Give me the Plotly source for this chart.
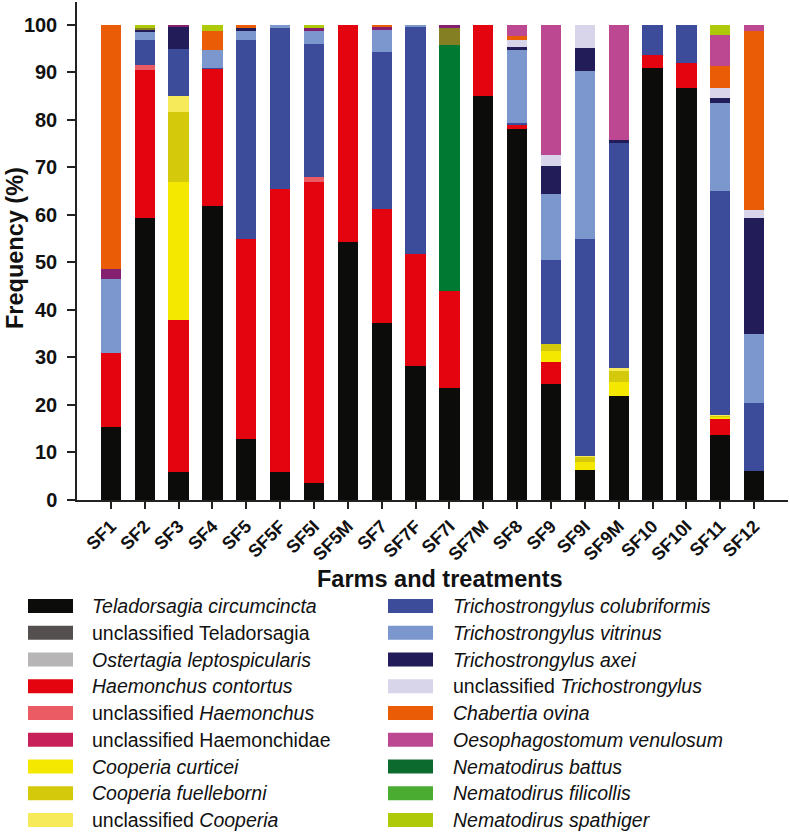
import plotly.graph_objects as go

categories = ["SF1", "SF2", "SF3", "SF4", "SF5", "SF5F", "SF5I", "SF5M", "SF7", "SF7F",
              "SF7I", "SF7M", "SF8", "SF9", "SF9I", "SF9M", "SF10", "SF10I", "SF11", "SF12"]

teladorsagia_circumcincta = [15.4, 59.3, 5.8, 61.9, 12.9, 5.8, 3.5, 54.2, 37.2, 28.2,
                             23.6, 85.1, 78.0, 24.4, 6.3, 21.8, 91.0, 86.7, 13.7, 6.1]
unclassified_teladorsagia = [0] * 20
ostertagia_leptospicularis = [0] * 20
haemonchus_contortus = [15.5, 31.2, 32.1, 28.8, 42.1, 59.6, 63.4, 45.8, 24.1, 23.6,
                        20.3, 14.9, 1.0, 4.7, 0, 0, 2.6, 5.3, 3.3, 0]
unclassified_haemonchus = [0, 1.0, 0, 0, 0, 0, 1.0, 0, 0, 0,
                           0, 0, 0, 0, 0, 0, 0, 0, 0, 0]
unclassified_haemonchidae = [2.0, 0, 0.4, 0, 0, 0, 0.4, 0, 0.6, 0,
                             0.6, 0, 0, 0, 0, 0, 0, 0, 0, 0]
cooperia_curticei = [0, 0, 29.0, 0, 0, 0, 0, 0, 0, 0,
                     0, 0, 0, 2.3, 1.6, 3.1, 0, 0, 0.5, 0]
cooperia_fuelleborni = [0, 0, 14.8, 0, 0, 0, 0, 0, 0, 0,
                        0, 0, 0, 1.4, 1.2, 2.3, 0, 0, 0.3, 0]
unclassified_cooperia = [0, 0, 3.4, 0, 0, 0, 0, 0, 0, 0,
                         0, 0, 0, 0, 0.2, 0.5, 0, 0, 0.1, 0]
trichostrongylus_colubriformis = [0, 5.2, 9.8, 0.2, 41.7, 33.9, 28.1, 0, 32.9, 47.7,
                                  0, 0, 0.35, 17.7, 45.6, 47.5, 6.4, 8.0, 47.2, 14.3]
trichostrongylus_vitrinus = [15.7, 1.9, 0, 3.8, 2.1, 0.7, 2.9, 0, 4.7, 0.5,
                             0, 0, 15.55, 13.9, 35.4, 0, 0, 0, 18.5, 14.5]
trichostrongylus_axei = [0, 0.4, 4.7, 0, 0.6, 0, 0, 0, 0, 0,
                         0, 0, 0.35, 5.9, 4.8, 0.5, 0, 0, 1.1, 24.4]
unclassified_trichostrongylus = [0, 0, 0, 0, 0, 0, 0, 0, 0, 0,
                                 0, 0, 1.55, 2.3, 4.9, 0, 0, 0, 2.0, 1.8]
chabertia_ovina = [51.4, 0, 0, 3.9, 0.6, 0, 0, 0, 0.5, 0,
                   0, 0, 0.9, 0, 0, 0, 0, 0, 4.7, 37.7]
oesophagostomum_venulosum = [0, 0, 0, 0, 0, 0, 0, 0, 0, 0,
                             0, 0, 2.3, 27.4, 0, 24.3, 0, 0, 6.5, 1.2]
nematodirus_battus = [0, 0, 0, 0, 0, 0, 0, 0, 0, 0,
                      51.9, 0, 0, 0, 0, 0, 0, 0, 0, 0]
nematodirus_filicollis = [0, 0.3, 0, 0, 0, 0, 0, 0, 0, 0,
                          3.6, 0, 0, 0, 0, 0, 0, 0, 0, 0]
nematodirus_spathiger = [0, 0.6, 0, 1.4, 0, 0, 0.7, 0, 0, 0,
                         0, 0, 0, 0, 0, 0, 0, 0, 2.1, 0]

# (legend label, values, bar colour, legend swatch colour)
S = {
    "tc": ("<i>Teladorsagia circumcincta</i>", teladorsagia_circumcincta, "#0c0c0a", "#0c0c0a"),
    "ut": ("unclassified Teladorsagia", unclassified_teladorsagia, "#545050", "#545050"),
    "ol": ("<i>Ostertagia leptospicularis</i>", ostertagia_leptospicularis, "#b8b5b6", "#b8b5b6"),
    "hc": ("<i>Haemonchus contortus</i>", haemonchus_contortus, "#e3040f", "#e3040f"),
    "uh": ("unclassified <i>Haemonchus</i>", unclassified_haemonchus, "#ea5b63", "#ea5b63"),
    "uhae": ("unclassified Haemonchidae", unclassified_haemonchidae, "#84206f", "#c71f5a"),
    "cc": ("<i>Cooperia curticei</i>", cooperia_curticei, "#f5e800", "#f5e800"),
    "cf": ("<i>Cooperia fuelleborni</i>", cooperia_fuelleborni, "#d4c90a", "#d4c90a"),
    "uc": ("unclassified <i>Cooperia</i>", unclassified_cooperia, "#f7ea5a", "#f7ea5a"),
    "tcol": ("<i>Trichostrongylus colubriformis</i>", trichostrongylus_colubriformis, "#3c4b9a", "#3c4b9a"),
    "tv": ("<i>Trichostrongylus vitrinus</i>", trichostrongylus_vitrinus, "#7b97cd", "#7b97cd"),
    "tax": ("<i>Trichostrongylus axei</i>", trichostrongylus_axei, "#221c58", "#221c58"),
    "utr": ("unclassified <i>Trichostrongylus</i>", unclassified_trichostrongylus, "#d8d4ea", "#d8d4ea"),
    "chab": ("<i>Chabertia ovina</i>", chabertia_ovina, "#eb5c06", "#eb5c06"),
    "oes": ("<i>Oesophagostomum venulosum</i>", oesophagostomum_venulosum, "#bd4892", "#bd4892"),
    "nb": ("<i>Nematodirus battus</i>", nematodirus_battus, "#007a33", "#0c6a2e"),
    "nf": ("<i>Nematodirus filicollis</i>", nematodirus_filicollis, "#857f24", "#4aad32"),
    "ns": ("<i>Nematodirus spathiger</i>", nematodirus_spathiger, "#adc90a", "#adc90a"),
}

stack_order = ["tc", "ut", "ol", "hc", "uh", "cc", "cf", "uc", "tcol", "tv", "tax", "utr",
               "nb", "nf", "uhae", "chab", "oes", "ns"]
legend_left = ["tc", "ut", "ol", "hc", "uh", "uhae", "cc", "cf", "uc"]
legend_right = ["tcol", "tv", "tax", "utr", "chab", "oes", "nb", "nf", "ns"]

FONT = "Liberation Sans, Arial, Helvetica, sans-serif"
W, H = 790, 832
ML, MR, MT, MB = 77, 2, 2, 332
PW = W - ML - MR
PH = H - MT - MB


def px(x):
    return (x - ML) / PW


def py(y):
    return (H - MB - y) / PH


fig = go.Figure()
for key in stack_order:
    label, vals, bcol, _ = S[key]
    fig.add_trace(go.Bar(
        x=categories, y=vals, name=label, marker=dict(color=bcol, line=dict(width=0)),
        width=0.6, showlegend=False,
    ))

shapes = []
annotations = []
for col, keys, sx0, sx1, tx in [(0, legend_left, 28, 73, 90), (1, legend_right, 388, 433, 451)]:
    for i, key in enumerate(keys):
        label, _, _, lcol = S[key]
        yc = 606 + 26.75 * i
        shapes.append(dict(type="rect", xref="paper", yref="paper",
                           x0=px(sx0), x1=px(sx1), y0=py(yc + 7), y1=py(yc - 7),
                           fillcolor=lcol, line=dict(width=0)))
        annotations.append(dict(text=label, xref="paper", yref="paper", x=px(tx), y=py(yc),
                                xanchor="left", yanchor="middle", showarrow=False,
                                font=dict(family=FONT, size=19.5, color="#111")))

annotations.append(dict(text="<b>Farms and treatments</b>", xref="paper", yref="paper",
                        x=px(440), y=py(579), xanchor="center", yanchor="middle", showarrow=False,
                        font=dict(family=FONT, size=23.5, color="#111")))
annotations.append(dict(text="<b>Frequency (%)</b>", xref="paper", yref="paper",
                        x=px(15), y=py(248), xanchor="center", yanchor="middle", showarrow=False,
                        textangle=-90, font=dict(family=FONT, size=23.5, color="#111")))

fig.update_layout(
    barmode="stack",
    width=W, height=H,
    margin=dict(l=ML, r=MR, t=MT, b=MB, pad=0),
    paper_bgcolor="white", plot_bgcolor="white",
    shapes=shapes, annotations=annotations,
    font=dict(family=FONT, color="#111"),
)
fig.update_xaxes(
    range=[-1, 20], showline=True, linecolor="#222", linewidth=1.5,
    ticks="outside", ticklen=7, tickwidth=1.5, tickcolor="#222",
    tickangle=-45, tickfont=dict(family=FONT, size=18, color="#111"),
    showgrid=False, zeroline=False,
    tickvals=categories, ticktext=["<b>%s</b>" % c for c in categories],
)
fig.update_yaxes(
    range=[0, 104.8], showline=True, linecolor="#222", linewidth=1.5,
    ticks="outside", ticklen=8, tickwidth=1.5, tickcolor="#222",
    tickvals=list(range(0, 101, 10)), ticktext=["<b>%d</b>" % v for v in range(0, 101, 10)],
    tickfont=dict(family=FONT, size=20, color="#111"), ticklabelstandoff=6,
    showgrid=False, zeroline=False,
)

fig.write_html("out.html", config={"displayModeBar": False},
               post_script="document.body.style.margin='0';")
